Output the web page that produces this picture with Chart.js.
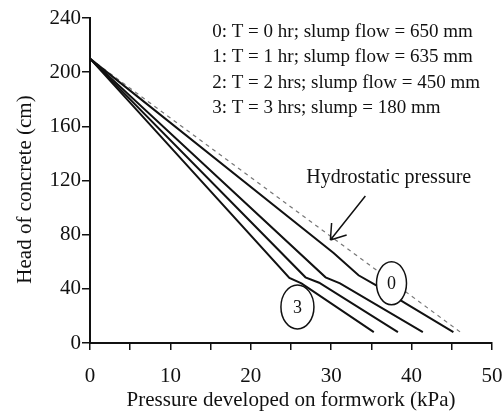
<!DOCTYPE html>
<html>
<head>
<meta charset="utf-8">
<script src="https://cdn.jsdelivr.net/npm/chart.js@4.4.1/dist/chart.umd.min.js"></script>
<style>
  html, body { margin: 0; padding: 0; background: #fff; }
  #wrap { width: 504px; height: 414px; }
</style>
</head>
<body>
<div id="wrap"><canvas id="pressure"></canvas></div>
<script>
// pressure (kPa) against head of concrete (cm)
const p0 = [0, 30.3, 33.4, 35.6, 39.2, 45.2];
const h0 = [210, 66.5, 50, 42.5, 29.5, 8];
const p1 = [0, 29.3, 31.1, 41.4];
const h1 = [210, 48.5, 44, 8];
const p2 = [0, 26.8, 28.5, 38.3];
const h2 = [210, 48.5, 44.5, 8];
const p3 = [0, 24.8, 26.3, 35.3];
const h3 = [210, 48, 44, 8];
const pHydro = [0, 46.3];
const hHydro = [210, 7];

const legendLines = [
    "0: T = 0 hr; slump flow = 650 mm",
    "1: T = 1 hr; slump flow = 635 mm",
    "2: T = 2 hrs; slump flow = 450 mm",
    "3: T = 3 hrs; slump = 180 mm",
];
const tagLabels = ["0", "3"];
const hydroLabel = "Hydrostatic pressure";
const xTitle = "Pressure developed on formwork (kPa)";
const yTitle = "Head of concrete (cm)";

const serif = '"Liberation Serif", "Times New Roman", serif';
const ink = '#111';

const pts = (p, h) => p.map((v, i) => ({ x: v, y: h[i] }));

const curve = (p, h) => ({
    data: pts(p, h),
    borderColor: ink,
    borderWidth: 2,
    pointRadius: 0,
    tension: 0,
    fill: false,
});

// text, ellipses and arrow on top of the curves
const notes = {
    id: 'notes',
    afterDatasetsDraw(chart) {
        const { ctx, chartArea, scales: { x, y } } = chart;
        const px = (v) => x.getPixelForValue(v);
        const py = (v) => y.getPixelForValue(v);
        ctx.save();
        ctx.fillStyle = ink;
        ctx.strokeStyle = ink;

        ctx.font = '19px ' + serif;
        ctx.textAlign = 'left';
        ctx.textBaseline = 'alphabetic';
        legendLines.forEach((t, i) => ctx.fillText(t, px(15.2), py(226) + i * 25.5));
        ctx.font = '20px ' + serif;
        ctx.fillText(hydroLabel, px(26.9), py(118.4));

        // arrow to the hydrostatic line
        const ax0 = px(34.25), ay0 = py(108.6), ax1 = px(29.9), ay1 = py(76.1);
        ctx.lineWidth = 1.5;
        ctx.beginPath();
        ctx.moveTo(ax0, ay0);
        ctx.lineTo(ax1, ay1);
        const ang = Math.atan2(ay0 - ay1, ax0 - ax1);
        [-0.6, 0.6].forEach((d) => {
            ctx.moveTo(ax1, ay1);
            ctx.lineTo(ax1 + 17 * Math.cos(ang + d), ay1 + 17 * Math.sin(ang + d));
        });
        ctx.stroke();

        // circled curve tags
        const tags = [[37.5, 44.1, 15, 21.5], [25.8, 26.6, 16.5, 22]];
        ctx.font = '18px ' + serif;
        ctx.textAlign = 'center';
        ctx.textBaseline = 'middle';
        tags.forEach(([cx, cy, rx, ry], i) => {
            ctx.beginPath();
            ctx.ellipse(px(cx), py(cy), rx, ry, 0, 0, Math.PI * 2);
            ctx.fillStyle = '#fff';
            ctx.fill();
            ctx.lineWidth = 1.5;
            ctx.stroke();
            ctx.fillStyle = ink;
            ctx.fillText(tagLabels[i], px(cx), py(cy) + 1);
        });

        // y axis title
        ctx.font = '21px ' + serif;
        ctx.translate(25, (chartArea.top + chartArea.bottom) / 2 + 9);
        ctx.rotate(-Math.PI / 2);
        ctx.fillText(yTitle, 0, 0);
        ctx.restore();
    }
};

new Chart(document.getElementById('pressure'), {
    type: 'line',
    data: {
        datasets: [
            curve(p0, h0),
            curve(p1, h1),
            curve(p2, h2),
            curve(p3, h3),
            {
                data: pts(pHydro, hHydro),
                borderColor: '#777',
                borderWidth: 1.2,
                borderDash: [4, 4],
                pointRadius: 0,
                fill: false,
            },
        ],
    },
    options: {
        responsive: true,
        maintainAspectRatio: false,
        animation: false,
        layout: { padding: { top: 18, right: 0, left: 0, bottom: 0 } },
        plugins: {
            legend: { display: false },
            tooltip: { enabled: false },
        },
        scales: {
            x: {
                type: 'linear',
                min: 0,
                max: 50,
                ticks: {
                    stepSize: 5,
                    autoSkip: false,
                    maxRotation: 0,
                    padding: 14,
                    color: ink,
                    font: { family: serif, size: 21 },
                    callback: (v) => (v % 10 === 0 ? v : ''),
                },
                grid: { drawOnChartArea: false, drawTicks: true, tickLength: 7, color: ink, lineWidth: 1.5 },
                border: { display: true, color: ink, width: 2 },
                title: {
                    display: true,
                    text: xTitle,
                    color: ink,
                    font: { family: serif, size: 21 },
                    padding: { top: 0, bottom: 1 },
                },
                afterFit: (s) => {
                    s.height = 71;
                    s.paddingLeft = 0;
                    s.paddingRight = 12;
                },
            },
            y: {
                type: 'linear',
                min: 0,
                max: 240,
                ticks: {
                    stepSize: 40,
                    padding: 1,
                    color: ink,
                    font: { family: serif, size: 21 },
                },
                grid: { drawOnChartArea: false, drawTicks: true, tickLength: 8, color: ink, lineWidth: 1.5 },
                border: { display: true, color: ink, width: 2 },
                afterFit: (s) => { s.width = 90; },
            },
        },
    },
    plugins: [notes],
});
</script>
</body>
</html>
